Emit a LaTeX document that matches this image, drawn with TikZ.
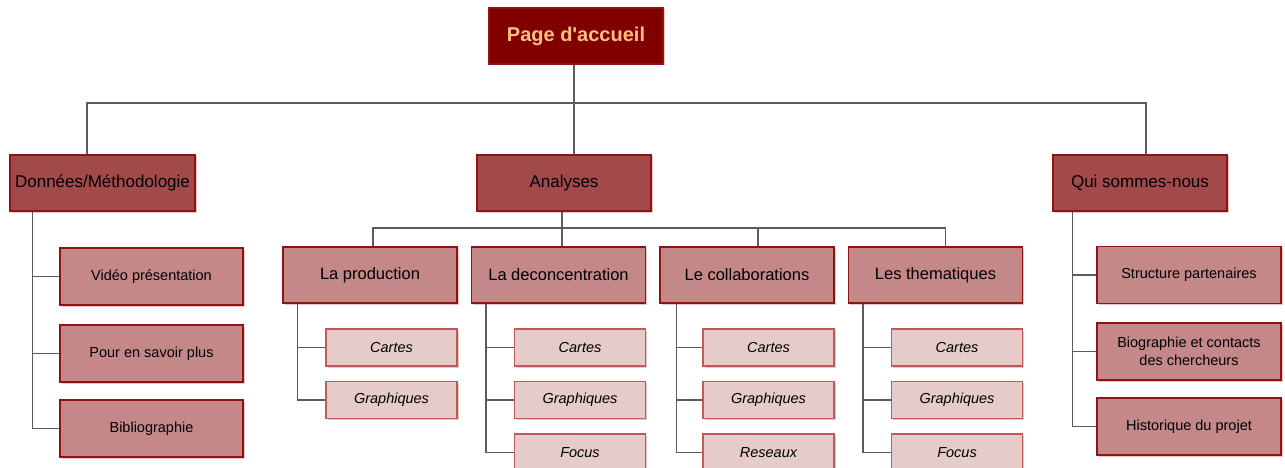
\documentclass[tikz,border=0pt]{standalone}
\usepackage{fontspec}
\setmainfont{Liberation Sans}
\usetikzlibrary{positioning, shadows}
\definecolor{rootred}{HTML}{800000}
\definecolor{roottext}{HTML}{FFC080}
\definecolor{topred}{HTML}{A24A4A}
\definecolor{midred}{HTML}{C48888}
\definecolor{leafpink}{HTML}{E6CBCB}
\definecolor{boxborder}{HTML}{8E1414}
\definecolor{leafborder}{HTML}{BF5A5A}
\definecolor{shadowpink}{HTML}{EBC4C4}
\definecolor{linkgray}{HTML}{5C5C5C}
\tikzset{
x=1pt, y=-1pt, % pixel units, y axis pointing down
node distance=188.5pt, % spacing between the analysis boxes
pinkshadow/.style={drop shadow={shadow xshift=1.5pt, shadow yshift=-1.5pt, fill=shadowpink, opacity=1}},
box/.style={rectangle, draw=boxborder, line width=1.2pt, inner sep=2pt, text=black, pinkshadow}, % every box
rootbox/.style={box, fill=rootred, text=roottext, minimum width=174pt, minimum height=56pt, font=\fontsize{20}{23}\selectfont\bfseries},
topbox/.style={box, fill=topred, minimum width=174pt, minimum height=56pt, font=\fontsize{17}{20}\selectfont},
midbox/.style={box, fill=midred, minimum width=174pt, minimum height=56pt, font=\fontsize{16.5}{19}\selectfont},
sidebox/.style={box, fill=midred, minimum width=184pt, minimum height=57pt, align=center, font=\fontsize{14.5}{18}\selectfont},
leaf/.style={box, draw=leafborder, fill=leafpink, minimum width=131pt, minimum height=37pt, node distance=52.5pt, font=\fontsize{14.5}{17}\selectfont\itshape},
link/.style={draw=linkgray, line width=1.4pt},
bus/.style={draw=linkgray, line width=2.4pt},
}
\begin{document}
\begin{tikzpicture}
\useasboundingbox (0,0) rectangle (1285,468);
% top of the site
\node[rootbox] (accueil) at (576,36) {Page d\textquotesingle accueil};
\node[topbox, minimum width=185pt] (donnees) at (102.5,183) {Données/Méthodologie};
\node[topbox] (analyses) at (564,183) {Analyses};
\node[topbox] (qui) at (1140,183) {Qui sommes-nous};
\coordinate (hub) at (574,103);
\draw[link] ([xshift=-2pt]accueil.south) -- (hub) -- (hub |- analyses.north);
\draw[bus] ([xshift=-15.5pt]donnees.north) |- (hub) -| ([xshift=6pt]qui.north);

% analyses
\node[midbox] (production) at (370,275) {La production};
\node[midbox, right of=production] (deconcentration) {La deconcentration};
\node[midbox, right of=deconcentration] (collaborations) {Le collaborations};
\node[midbox, right of=collaborations] (thematiques) {Les thematiques};
\coordinate (hubA) at (562,228);
\draw[link] (hubA |- analyses.south) -- (hubA);
\draw[link] ([xshift=3pt]production.north) |- (hubA) -| ([xshift=10pt]thematiques.north);
\draw[link] (hubA) -- (hubA |- deconcentration.north);
\draw[link] ([xshift=11pt]collaborations.north |- hubA) -- ([xshift=11pt]collaborations.north);

\node[leaf] (prodCartes) at (391.5,347.5) {Cartes};
\node[leaf, below of=prodCartes] (prodGraphiques) {Graphiques};
\node[leaf] (decCartes) at (580,347.5) {Cartes};
\node[leaf, below of=decCartes] (decGraphiques) {Graphiques};
\node[leaf, below of=decGraphiques] (decFocus) {Focus};
\node[leaf] (colCartes) at (768.5,347.5) {Cartes};
\node[leaf, below of=colCartes] (colGraphiques) {Graphiques};
\node[leaf, below of=colGraphiques] (colReseaux) {Reseaux};
\node[leaf] (theCartes) at (957,347.5) {Cartes};
\node[leaf, below of=theCartes] (theGraphiques) {Graphiques};
\node[leaf, below of=theGraphiques] (theFocus) {Focus};

\draw[link] ([xshift=15pt]production.south west) |- (prodGraphiques.west);
\draw[link] ([xshift=15pt]production.south west) |- (prodCartes.west);
\draw[link] ([xshift=15pt]deconcentration.south west) |- (decFocus.west);
\draw[link] ([xshift=15pt]deconcentration.south west) |- (decGraphiques.west);
\draw[link] ([xshift=15pt]deconcentration.south west) |- (decCartes.west);
\draw[link] ([xshift=17pt]collaborations.south west) |- (colReseaux.west);
\draw[link] ([xshift=17pt]collaborations.south west) |- (colGraphiques.west);
\draw[link] ([xshift=17pt]collaborations.south west) |- (colCartes.west);
\draw[link] ([xshift=15pt]thematiques.south west) |- (theFocus.west);
\draw[link] ([xshift=15pt]thematiques.south west) |- (theGraphiques.west);
\draw[link] ([xshift=15pt]thematiques.south west) |- (theCartes.west);

% donnees / methodologie
\node[sidebox, minimum width=183pt] (video) at (151.5,276.5) {Vidéo présentation};
\node[sidebox, minimum width=183pt] (savoir) at (151.5,353.5) {Pour en savoir plus};
\node[sidebox, minimum width=183pt] (biblio) at (151.5,428.5) {Bibliographie};
\draw[link] ([xshift=23pt]donnees.south west) |- (biblio.west);
\draw[link] ([xshift=23pt]donnees.south west) |- (savoir.west);
\draw[link] ([xshift=23pt]donnees.south west) |- (video.west);

% qui sommes-nous
\node[sidebox] (structure) at (1189,275) {Structure partenaires};
\node[sidebox] (biographie) at (1189,351.5) {Biographie et contacts\\des chercheurs};
\node[sidebox] (historique) at (1189,426.5) {Historique du projet};
\draw[link] ([xshift=20pt]qui.south west) |- (historique.west);
\draw[link] ([xshift=20pt]qui.south west) |- (biographie.west);
\draw[link] ([xshift=20pt]qui.south west) |- (structure.west);
\end{tikzpicture}
\end{document}
